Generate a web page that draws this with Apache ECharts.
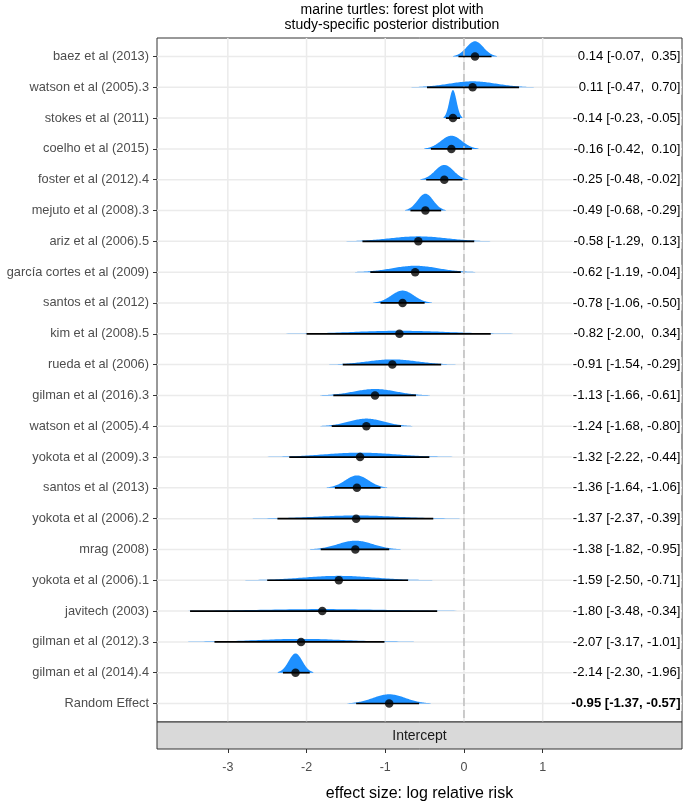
<!DOCTYPE html>
<html><head><meta charset="utf-8">
<script src="https://cdn.jsdelivr.net/npm/echarts@6/dist/echarts.min.js"></script>
<style>html,body{margin:0;padding:0;background:#fff}#c{width:685px;height:803px}</style>
</head><body><div id="c"></div>
<script>
// ---- data (top to bottom) ----
const studies = ['baez et al (2013)', 'watson et al (2005).3', 'stokes et al (2011)', 'coelho et al (2015)',
  'foster et al (2012).4', 'mejuto et al (2008).3', 'ariz et al (2006).5', 'garcía cortes et al (2009)',
  'santos et al (2012)', 'kim et al (2008).5', 'rueda et al (2006)', 'gilman et al (2016).3',
  'watson et al (2005).4', 'yokota et al (2009).3', 'santos et al (2013)', 'yokota et al (2006).2',
  'mrag (2008)', 'yokota et al (2006).1', 'javitech (2003)', 'gilman et al (2012).3',
  'gilman et al (2014).4', 'Random Effect'];
const estimates = [0.14, 0.11, -0.14, -0.16, -0.25, -0.49, -0.58, -0.62, -0.78, -0.82, -0.91,
  -1.13, -1.24, -1.32, -1.36, -1.37, -1.38, -1.59, -1.80, -2.07, -2.14, -0.95];
const lowerCI = [-0.07, -0.47, -0.23, -0.42, -0.48, -0.68, -1.29, -1.19, -1.06, -2.00, -1.54,
  -1.66, -1.68, -2.22, -1.64, -2.37, -1.82, -2.50, -3.48, -3.17, -2.30, -1.37];
const upperCI = [0.35, 0.70, -0.05, 0.10, -0.02, -0.29, 0.13, -0.04, -0.50, 0.34, -0.29,
  -0.61, -0.80, -0.44, -1.06, -0.39, -0.95, -0.71, -0.34, -1.01, -1.96, -0.57];
// posterior density peak heights (density units)
const densityPeak = [3.8, 1.5, 7.0, 3.3, 3.7, 4.2, 1.25, 1.6, 3.1, 0.75, 1.3,
  1.6, 1.9, 1.1, 3.1, 0.8, 2.2, 1.1, 0.5, 0.75, 4.8, 2.3];
const xTicks = [-3, -2, -1, 0, 1];
const refValue = 0;
const titleText = 'marine turtles: forest plot with\nstudy-specific posterior distribution';
const xTitle = 'effect size: log relative risk';
const stripText = 'Intercept';

// ---- rendering ----
const rowIdx = studies.map((_, i) => i);
const FONT = '"Liberation Sans", Arial, Helvetica, sans-serif';
const ridgeScale = 0.13;   // row units per density unit
const BLUE = '#1E90FF';
const GL = 157, GR = 682, GT = 38, GB = 722, W = 685, H = 803;

function fmt(v) { const s = v.toFixed(2); return v >= 0 ? ' ' + s : s; }
const rightLabels = estimates.map((e, i) => e.toFixed(2) + ' [' + fmt(lowerCI[i]) + ', ' + fmt(upperCI[i]) + ']');

const chart = echarts.init(document.getElementById('c'), null, { renderer: 'canvas' });

const option = {
  animation: false,
  backgroundColor: '#fff',
  textStyle: { fontFamily: FONT },
  grid: { left: GL, right: W - GR, top: GT, bottom: H - GB, show: true,
    borderColor: '#333', borderWidth: 1, backgroundColor: '#fff' },
  xAxis: {
    type: 'value', min: -3.9, max: 2.77, position: 'bottom', offset: 27,
    axisLine: { show: false, onZero: false }, splitLine: { show: false },
    axisTick: { show: true, customValues: xTicks, length: 4, lineStyle: { color: '#333', width: 1 } },
    axisLabel: { customValues: xTicks, color: '#4D4D4D', fontSize: 12.5, margin: 12, fontFamily: FONT }
  },
  yAxis: {
    type: 'value', inverse: true, min: -0.6, max: 21.6, position: 'left',
    axisLine: { show: false, onZero: false }, splitLine: { show: false },
    axisTick: { show: true, customValues: rowIdx, length: 4, lineStyle: { color: '#333', width: 1 } },
    axisLabel: { customValues: rowIdx, formatter: v => studies[Math.round(v)] || '',
      color: '#4D4D4D', fontSize: 12.8, margin: 8, fontFamily: FONT }
  },
  series: [
    { // grid lines (vertical at x ticks, horizontal at rows)
      type: 'custom', z: 1, silent: true, clip: true,
      data: [[0, 0]],
      renderItem: (p, api) => {
        const cs = p.coordSys;
        const children = [];
        xTicks.forEach(v => {
          const x = api.coord([v, 0])[0];
          children.push({ type: 'line', shape: { x1: x, y1: cs.y, x2: x, y2: cs.y + cs.height },
            style: { stroke: '#EBEBEB', lineWidth: 1.5 } });
        });
        rowIdx.forEach(i => {
          const y = api.coord([0, i])[1];
          children.push({ type: 'line', shape: { x1: cs.x, y1: y, x2: cs.x + cs.width, y2: y },
            style: { stroke: '#EBEBEB', lineWidth: 1.5 } });
        });
        return { type: 'group', children };
      }
    },
    { // densities
      type: 'custom', z: 3, silent: true, clip: true,
      data: rowIdx.map(i => [estimates[i], i, lowerCI[i], upperCI[i], densityPeak[i]]),
      renderItem: (p, api) => {
        const m = api.value(0), row = api.value(1), lo = api.value(2), hi = api.value(3), pk = api.value(4);
        const sd = (hi - lo) / 3.92;
        const span = 2.6;
        const pts = [];
        const n = 90;
        for (let k = 0; k <= n; k++) {
          const x = m - span * sd + 2 * span * sd * k / n;
          const z = (x - m) / sd;
          pts.push(api.coord([x, row - pk * ridgeScale * Math.exp(-0.5 * z * z)]));
        }
        pts.push(api.coord([m + span * sd, row]));
        pts.push(api.coord([m - span * sd, row]));
        return { type: 'polygon', shape: { points: pts }, style: { fill: BLUE } };
      }
    },
    { // reference line
      type: 'custom', z: 4, silent: true, clip: true,
      data: [[refValue, 10]],
      renderItem: (p, api) => {
        const cs = p.coordSys; const x = api.coord([api.value(0), 0])[0];
        return { type: 'line', shape: { x1: x, y1: cs.y, x2: x, y2: cs.y + cs.height },
          style: { stroke: '#BEBEBE', lineWidth: 1.5, lineDash: [8, 4] } };
      }
    },
    { // intervals
      type: 'custom', z: 5, silent: true, clip: true,
      data: rowIdx.map(i => [lowerCI[i], upperCI[i], i]),
      renderItem: (p, api) => {
        const a = api.coord([api.value(0), api.value(2)]);
        const b = api.coord([api.value(1), api.value(2)]);
        return { type: 'line', shape: { x1: a[0], y1: a[1], x2: b[0], y2: b[1] },
          style: { stroke: '#000', lineWidth: 1.7 } };
      }
    },
    { // points
      type: 'scatter', z: 6, silent: true, symbol: 'circle', symbolSize: 8.5,
      itemStyle: { color: '#000' },
      data: rowIdx.map(i => [estimates[i], i])
    },
    { // right-hand text
      type: 'custom', z: 7, silent: true, clip: false,
      data: rowIdx.map(i => [0, i]),
      renderItem: (p, api) => {
        const cs = p.coordSys; const i = api.value(1);
        const y = api.coord([0, i])[1];
        const bold = studies[i] === 'Random Effect';
        return { type: 'text', style: { text: rightLabels[i], x: cs.x + cs.width - 0.5, y: y,
          align: 'right', verticalAlign: 'middle', fill: '#000', fontSize: 13.1,
          fontFamily: FONT, fontWeight: bold ? 'bold' : 'normal',
          backgroundColor: '#fff', padding: [1, 1] } };
      }
    }
  ],
  graphic: [
    { type: 'rect', z: 10, shape: { x: GL, y: GB, width: GR - GL, height: 27 },
      style: { fill: '#D9D9D9', stroke: '#333', lineWidth: 1 } },
    { type: 'text', z: 11, x: (GL + GR) / 2, y: GB + 14,
      style: { text: stripText, align: 'center', verticalAlign: 'middle', fill: '#1A1A1A',
        fontSize: 14, fontFamily: FONT } },
    { type: 'text', z: 11, x: 392, y: 3,
      style: { text: titleText, align: 'center', verticalAlign: 'top', fill: '#000',
        fontSize: 14, lineHeight: 14.5, fontFamily: FONT } },
    { type: 'text', z: 11, x: (GL + GR) / 2, y: 794,
      style: { text: xTitle, align: 'center', verticalAlign: 'middle', fill: '#000',
        fontSize: 16, fontFamily: FONT } }
  ]
};
chart.setOption(option);
</script>
</body></html>
